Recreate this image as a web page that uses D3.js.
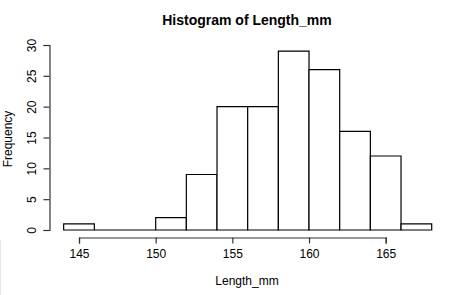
<!DOCTYPE html>
<html lang="en">
<head>
  <meta charset="UTF-8">
  <title>Histogram of Length_mm</title>
  <script src="https://d3js.org/d3.v7.min.js"></script>
  <style>
    body { margin: 0; background: #fff; }
    text { font-family: "Liberation Sans", Arial, sans-serif; fill: #000; }
  </style>
</head>
<body>
  <svg width="469" height="295"></svg>

  <script>
    // bin edges (width 2) and counts per bin
    const binStarts = [144, 146, 148, 150, 152, 154, 156, 158, 160, 162, 164, 166];
    const counts = [1, 0, 0, 2, 9, 20, 20, 29, 26, 16, 12, 1];
    const xTicks = [145, 150, 155, 160, 165];
    const yTicks = [0, 5, 10, 15, 20, 25, 30];
    const binWidth = 2;

    const svg = d3.select("svg");

    // scales
    const x = d3.scaleLinear().domain([145, 165]).range([79, 385.7]);
    const y = d3.scaleLinear().domain([0, 30]).range([230, 45]);

    // bars drawn as closed paths so empty bins still show the baseline
    svg.selectAll(".bar")
      .data(binStarts)
      .enter().append("path")
      .attr("class", "bar")
      .attr("d", (d, i) => {
        const x0 = x(d), x1 = x(d + binWidth), y0 = y(0), y1 = y(counts[i]);
        return `M${x0},${y0}V${y1}H${x1}V${y0}Z`;
      })
      .attr("fill", "#fff")
      .attr("stroke", "#000")
      .attr("stroke-width", 1.2);

    // x axis (offset below the plot, like base R)
    const xAxis = svg.append("g")
      .attr("transform", "translate(0,237.5)")
      .call(d3.axisBottom(x).tickValues(xTicks).tickSize(6).tickPadding(6).tickFormat(d3.format("d")));
    xAxis.select(".domain").attr("stroke", "#333").attr("stroke-width", 1.2);
    xAxis.selectAll(".tick line").attr("stroke", "#333").attr("stroke-width", 1.2);
    xAxis.selectAll("text")
      .style("font-size", "12px")
      .style("font-family", "'Liberation Sans', Arial, sans-serif")
      .attr("fill", "#000");

    // y axis
    const yAxis = svg.append("g")
      .attr("transform", "translate(49.5,0)")
      .call(d3.axisLeft(y).tickValues(yTicks).tickSize(6).tickPadding(0).tickFormat(d3.format("d")));
    yAxis.select(".domain").attr("stroke", "#333").attr("stroke-width", 1.2);
    yAxis.selectAll(".tick line").attr("stroke", "#333").attr("stroke-width", 1.2);
    yAxis.selectAll("text")
      .attr("x", 0)
      .attr("dy", 0)
      .attr("transform", "translate(-17,0) rotate(-90)")
      .style("text-anchor", "middle")
      .attr("dominant-baseline", "middle")
      .style("font-size", "12px")
      .style("font-family", "'Liberation Sans', Arial, sans-serif")
      .attr("fill", "#000");

    // title
    svg.append("text")
      .attr("x", 247)
      .attr("y", 25)
      .attr("text-anchor", "middle")
      .style("font-size", "14px")
      .style("font-weight", "bold")
      .text("Histogram of Length_mm");

    // x axis title
    svg.append("text")
      .attr("x", 247)
      .attr("y", 285)
      .attr("text-anchor", "middle")
      .style("font-size", "12px")
      .text("Length_mm");

    // y axis title
    svg.append("text")
      .attr("transform", "translate(12,139) rotate(-90)")
      .attr("text-anchor", "middle")
      .style("font-size", "12px")
      .text("Frequency");

    // faint frame edge at bottom-left of the screenshot
    svg.append("line")
      .attr("x1", 0.5).attr("x2", 0.5)
      .attr("y1", 240).attr("y2", 295)
      .attr("stroke", "#e4e4e4");
  </script>
</body>
</html>
